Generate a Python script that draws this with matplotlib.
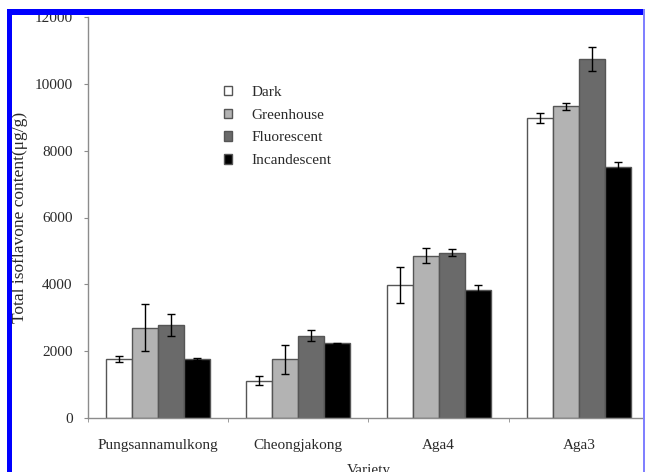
import matplotlib
matplotlib.use("Agg")
import matplotlib.pyplot as plt
import numpy as np
from matplotlib.patches import Rectangle

varieties = ["Pungsannamulkong", "Cheongjakong", "Aga4", "Aga3"]
treatments = ["Dark", "Greenhouse", "Fluorescent", "Incandescent"]

dark = [1780, 1120, 3980, 8980]
dark_err = [90, 130, 530, 150]
greenhouse = [2700, 1760, 4860, 9330]
greenhouse_err = [700, 430, 230, 110]
fluorescent = [2785, 2465, 4950, 10750]
fluorescent_err = [330, 170, 100, 360]
incandescent = [1770, 2235, 3820, 7515]
incandescent_err = [40, 20, 160, 150]

fill_colors = ["white", "#b3b3b3", "#6a6a6a", "black"]

plt.rcParams["font.family"] = ["Liberation Serif", "DejaVu Serif"]
txt = "#2a2a2a"
axis_grey = "#8c8c8c"

fig = plt.figure(figsize=(6.45, 4.72), dpi=100)
ax = fig.add_axes([88 / 645, 1 - 418 / 472, 561 / 645, 401 / 472])

x = np.arange(len(varieties))
w = 0.185
series = [(dark, dark_err), (greenhouse, greenhouse_err),
          (fluorescent, fluorescent_err), (incandescent, incandescent_err)]
for i, (vals, errs) in enumerate(series):
    ax.bar(x + (i - 1.5) * w, vals, w, yerr=errs, color=fill_colors[i],
           edgecolor="#555555", linewidth=1.0, label=treatments[i],
           error_kw=dict(ecolor="black", elinewidth=1.0, capsize=2.6, capthick=1.0))

ax.set_xlim(-0.5, 3.5)
ax.set_ylim(0, 12000)
ax.set_yticks(range(0, 12001, 2000))

for s in ["top", "right"]:
    ax.spines[s].set_visible(False)
for s in ["left", "bottom"]:
    ax.spines[s].set_color(axis_grey)
    ax.spines[s].set_linewidth(1.0)

ax.set_xticks(x)
ax.set_xticklabels(varieties)
ax.set_xticks(np.arange(-0.5, 4.0, 1.0), minor=True)
ax.tick_params(axis="x", which="major", length=0, pad=15, labelsize=11, labelcolor=txt)
ax.tick_params(axis="x", which="minor", length=3, color=axis_grey, direction="out")
ax.tick_params(axis="y", length=3, color=axis_grey, pad=8, labelsize=11, labelcolor=txt)

ax.set_xlabel("Variety", fontsize=11, color=txt, labelpad=9)
ax.set_ylabel("Total isoflavone content(\u03bcg/g)", fontsize=12.5, color=txt, labelpad=4.5)

leg = ax.legend(loc="upper left", bbox_to_anchor=(0.228, 0.848), frameon=False,
                handlelength=0.55, handleheight=0.55, handletextpad=1.3,
                labelspacing=0.65, borderpad=0, fontsize=11)
for t in leg.get_texts():
    t.set_color(txt)

# blue frame around the figure
blue = "#0000ff"
fig.add_artist(Rectangle((7 / 645, 0), 5 / 645, 1 - 9 / 472, transform=fig.transFigure,
                         facecolor=blue, edgecolor="none", zorder=20))
fig.add_artist(Rectangle((7 / 645, 1 - 15 / 472), 638 / 645, 6 / 472, transform=fig.transFigure,
                         facecolor=blue, edgecolor="none", zorder=20))
fig.add_artist(Rectangle((643 / 645, 0), 1.5 / 645, 1 - 9 / 472, transform=fig.transFigure,
                         facecolor="#8080ff", edgecolor="none", zorder=20))

fig.savefig("out.png", dpi=100)
